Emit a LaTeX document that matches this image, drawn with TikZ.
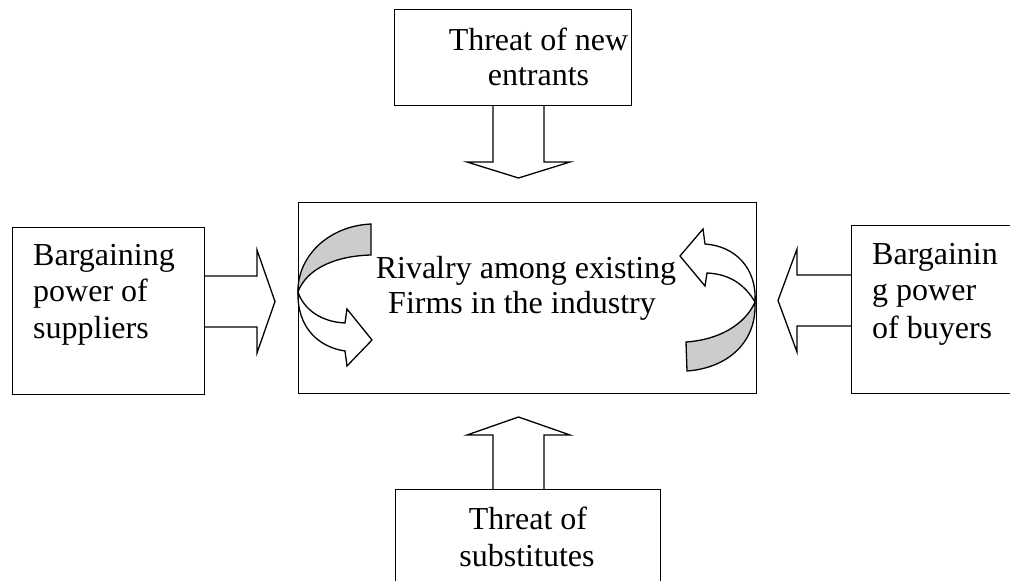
\documentclass[tikz,border=0pt]{standalone}
\usepackage{fontspec}
\setmainfont{Liberation Serif}
\definecolor{ribgray}{RGB}{204,204,204}
\begin{document}
\begin{tikzpicture}[x=1pt,y=-1pt,
  box/.style={draw, line width=1.3pt, inner sep=0pt, anchor=north west},
  blk/.style={draw, line width=1.3pt, line join=miter},
  lbl/.style={inner sep=0pt, font=\fontsize{32}{36}\selectfont},
  ribbon/.style={draw, line width=1.3pt, fill=ribgray, line join=miter},
  front/.style={draw, line width=1.3pt, fill=white, line join=miter},
]
\useasboundingbox (0,0) rectangle (1010,581);

% block arrows
\draw[blk] (493,105) -- (493,162) -- (467,162) -- (518.5,178) -- (570,162) -- (544,162) -- (544,105);
\draw[blk] (493,489) -- (493,435) -- (467,435) -- (518.5,417) -- (570,435) -- (544,435) -- (544,489);
\draw[blk] (204,276) -- (257,276) -- (257,250) -- (275,301.5) -- (257,353) -- (257,327) -- (204,327);
\draw[blk] (851,275) -- (797,275) -- (797,249) -- (778,300.5) -- (797,352) -- (797,326) -- (851,326);

% curved arrows
\filldraw[ribbon] (371,224) .. controls (327,226) and (297,258) .. (298,292) .. controls (306,270) and (333,256) .. (371,255) -- cycle;
\filldraw[front] (298,292) .. controls (304,310) and (322,322) .. (345,323) -- (347,309) -- (372,340) -- (347,366) -- (345,351) .. controls (318,347) and (297,327) .. (298,292) -- cycle;
\filldraw[ribbon] (687,371) .. controls (728,368) and (757,342) .. (755,302) .. controls (745,325) and (718,340) .. (686,342) -- cycle;
\filldraw[front] (755,302) .. controls (745,285) and (730,274) .. (707,273) -- (705,286) -- (680,256) -- (703,229) -- (705,244) .. controls (735,246) and (757,268) .. (755,302) -- cycle;

% boxes
\node[box, minimum width=237pt, minimum height=96pt] (top) at (394,9) {};
\node[box, minimum width=192pt, minimum height=167pt] (left) at (12,227) {};
\node[box, minimum width=458pt, minimum height=191pt] (center) at (298,202) {};
\node[box, minimum width=170pt, minimum height=168pt] (right) at (851,225) {};
\node[box, minimum width=265pt, minimum height=110pt] (bottom) at (395,489) {};

% texts
\node[lbl, anchor=base] (t1) at (538.5,50) {Threat of new};
\node[lbl, anchor=base] (t2) at (538.5,85) {entrants};
\node[lbl, anchor=base west] (l1) at (33,265) {Bargaining};
\node[lbl, anchor=base west] (l2) at (33,301) {power of};
\node[lbl, anchor=base west] (l3) at (33,338) {suppliers};
\node[lbl, anchor=base west] (r1) at (872,264) {Bargainin};
\node[lbl, anchor=base west] (r2) at (872,300) {g power};
\node[lbl, anchor=base west] (r3) at (872,338) {of buyers};
\node[lbl, anchor=base] (c1) at (526,278) {Rivalry among existing};
\node[lbl, anchor=base] (c2) at (522,313) {Firms in the industry};
\node[lbl, anchor=base] (b1) at (528,529) {Threat of};
\node[lbl, anchor=base] (b2) at (527,566) {substitutes};
\end{tikzpicture}
\end{document}
